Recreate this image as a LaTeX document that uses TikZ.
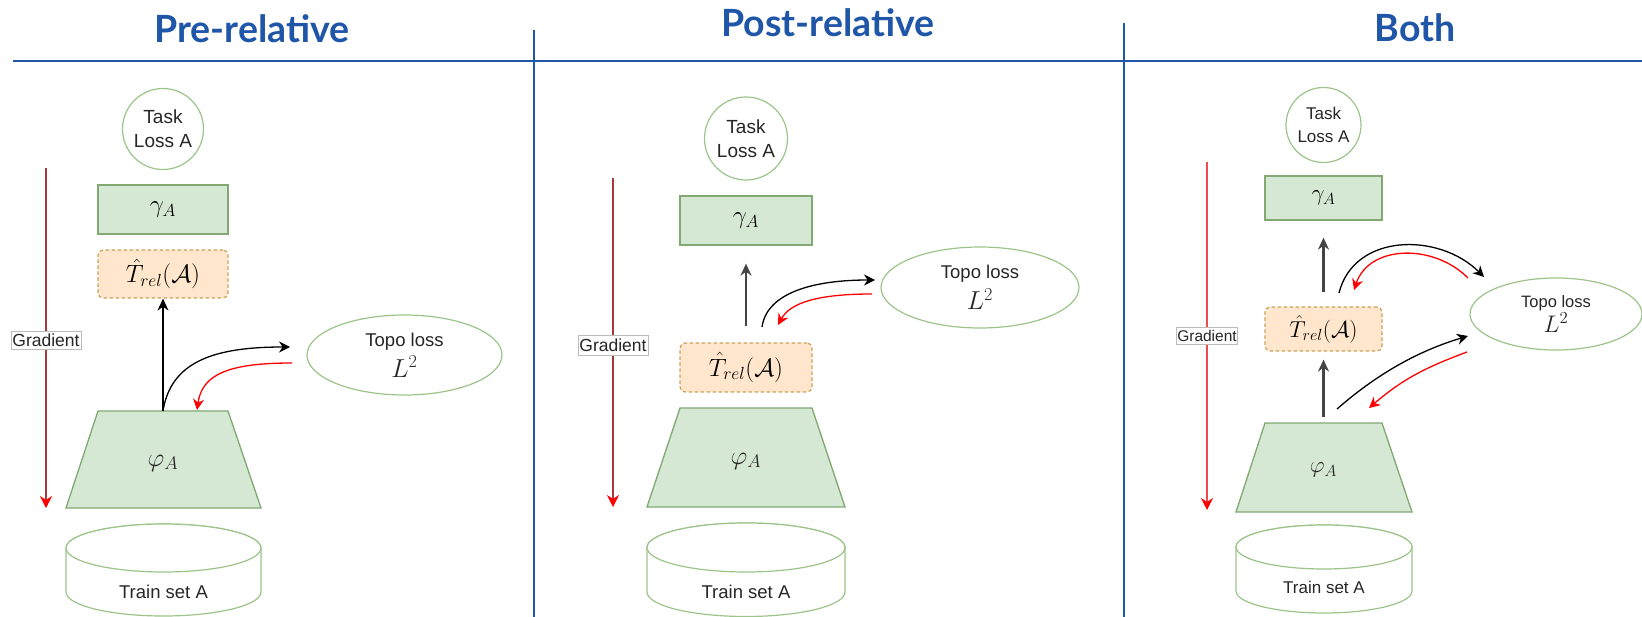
\RequirePackage{fix-cm}
\documentclass[tikz,border=0pt]{standalone}
\usepackage[no-math]{fontspec}
\setmainfont{Liberation Sans}
\newfontfamily\titlefont{Lato}
\usetikzlibrary{arrows.meta,shapes.geometric}
\definecolor{ttl}{HTML}{1F56A8}
\definecolor{grnfill}{HTML}{D5E8D4}
\definecolor{grnline}{HTML}{82A874}
\definecolor{lgrn}{HTML}{9CC48A}
\definecolor{ornfill}{HTML}{FFE6CC}
\definecolor{ornline}{HTML}{C9A15A}
\definecolor{gradA}{HTML}{A8383A}
\definecolor{gradB}{HTML}{EE4A52}
\definecolor{txtc}{HTML}{262626}
\definecolor{arrg}{HTML}{444444}
\definecolor{lblline}{HTML}{BBBBBB}
\begin{document}
\begin{tikzpicture}[x=1pt,y=-1pt,
 title/.style={font=\titlefont\bfseries\fontsize{37.5}{40}\selectfont, text=ttl, inner sep=0pt, anchor=base},
 sep/.style={draw=ttl, line width=2pt},
 tasknode/.style={circle, draw=lgrn, fill=white, line width=1.2pt, inner sep=0pt, align=center, text=txtc},
 gbox/.style={rectangle, draw=grnline, fill=grnfill, line width=1.3pt, inner sep=0pt},
 obox/.style={rectangle, rounded corners=5pt, draw=ornline, fill=ornfill, line width=1.2pt, dash pattern=on 3.5pt off 2.5pt, inner sep=0pt},
 trap/.style={draw=grnline, fill=grnfill, line width=1.3pt},
 cyl/.style={draw=lgrn, fill=white, line width=1.2pt},
 topo/.style={ellipse, draw=lgrn, fill=white, line width=1.2pt, inner sep=0pt, align=center, text=txtc},
 lbl/.style={text=txtc, inner sep=0pt},
 gradlbl/.style={draw=lblline, fill=white, line width=0.6pt, inner sep=0pt, text=txtc},
 fwd/.style={draw=black, line width=1.3pt, -{Stealth[length=11pt,width=11pt]}},
 bwd/.style={draw=red, line width=1.3pt, -{Stealth[length=11pt,width=11pt]}},
 upthin/.style={draw=black, line width=1.6pt, -{Stealth[length=12pt,width=11pt]}},
 upgrey/.style={draw=arrg, line width=2.2pt, -{Stealth[length=12pt,width=11pt]}},
 gradarrA/.style={draw=gradA, line width=1.3pt, -{Stealth[length=12pt,width=12pt,color=red]}},
 gradarrB/.style={draw=gradB, line width=1.3pt, -{Stealth[length=12pt,width=12pt,color=red]}},
 fA/.style={font=\fontsize{19}{24}\selectfont},
 fB/.style={font=\fontsize{17}{23}\selectfont},
]
\useasboundingbox (0,0) rectangle (1642,617);

% ---------- titles and separators ----------
\node[title] (h1) at (252,43) {Pre-relative};
\node[title] (h2) at (828,37) {Post-relative};
\node[title] (h3) at (1415,42) {Both};
\coordinate (hl) at (13,61); \coordinate (hr) at (1642,61);
\draw[sep] (hl) -- (hr);
\coordinate (d1t) at (534,30); \coordinate (d1b) at (534,617);
\draw[sep] (d1t) -- (d1b);
\coordinate (d2t) at (1124,23); \coordinate (d2b) at (1124,617);
\draw[sep] (d2t) -- (d2b);

% ================= Panel 1: Pre-relative =================
\coordinate (gr1t) at (46,168); \coordinate (gr1b) at (46,508);
\draw[gradarrA] (gr1t) -- (gr1b);
\node[gradlbl, minimum width=70pt, minimum height=18pt, font=\fontsize{17.5}{18}\selectfont] (gl1) at (46,340) {Gradient};

\node[tasknode, minimum size=81pt, fA] (task1) at (163,129) {Task\\Loss A};
\node[gbox, minimum width=130pt, minimum height=49pt, font=\fontsize{25}{25}\selectfont] (gam1) at (163,209.5) {$\gamma_A$};
\node[obox, minimum width=130pt, minimum height=48pt, font=\fontsize{25}{25}\selectfont] (rel1) at (163,274) {$\hat{T}_{rel}(\mathcal{A})$};
\draw[trap] (98,411) -- (228,411) -- (261,508) -- (66,508) -- cycle;
\node[lbl, font=\fontsize{26}{26}\selectfont] (phi1) at (163,463) {$\varphi_A$};
\coordinate (phi1top) at (163,411);
\path[cyl] (66,548) -- (66,592) arc[start angle=180,end angle=0,x radius=97.5,y radius=24] -- (261,548) arc[start angle=0,end angle=-180,x radius=97.5,y radius=24] -- cycle;
\draw[cyl] (163.5,548) ellipse [x radius=97.5, y radius=24];
\node[lbl, font=\fontsize{18.5}{20}\selectfont] (ts1) at (163.5,592) {Train set A};
\node[topo, minimum width=195pt, minimum height=80pt, font=\fontsize{18.5}{31}\selectfont] (topo1) at (404.5,355) {Topo loss\\{\fontsize{26}{31}\selectfont$L^2$}};

\draw[upthin] (phi1top) -- (rel1.south);
\coordinate (c1a) at (290,347); \coordinate (c1b) at (292,363); \coordinate (c1c) at (197,410);
\draw[fwd] (phi1top) .. controls +(8,-50) and +(-75,0) .. (c1a);
\draw[bwd] (c1b) .. controls +(-65,0) and +(5,-35) .. (c1c);

% ================= Panel 2: Post-relative =================
\coordinate (gr2t) at (613,178); \coordinate (gr2b) at (613,507);
\draw[gradarrA] (gr2t) -- (gr2b);
\node[gradlbl, minimum width=70pt, minimum height=20pt, font=\fontsize{17.5}{18}\selectfont] (gl2) at (613,345) {Gradient};

\node[tasknode, minimum size=83pt, fA] (task2) at (746,138.5) {Task\\Loss A};
\node[gbox, minimum width=132pt, minimum height=49pt, font=\fontsize{25}{25}\selectfont] (gam2) at (746,220.5) {$\gamma_A$};
\node[obox, minimum width=132pt, minimum height=49pt, font=\fontsize{25}{25}\selectfont] (rel2) at (746,367.5) {$\hat{T}_{rel}(\mathcal{A})$};
\draw[trap] (680,408) -- (812,408) -- (845,507) -- (647,507) -- cycle;
\node[lbl, font=\fontsize{26}{26}\selectfont] (phi2) at (746,461) {$\varphi_A$};
\path[cyl] (647,547.5) -- (647,592) arc[start angle=180,end angle=0,x radius=99,y radius=24.5] -- (845,547.5) arc[start angle=0,end angle=-180,x radius=99,y radius=24.5] -- cycle;
\draw[cyl] (746,547.5) ellipse [x radius=99, y radius=24.5];
\node[lbl, font=\fontsize{18.5}{20}\selectfont] (ts2) at (746,592) {Train set A};
\node[topo, minimum width=198pt, minimum height=81pt, font=\fontsize{18.5}{31}\selectfont] (topo2) at (980,287.5) {Topo loss\\{\fontsize{26}{31}\selectfont$L^2$}};

\draw[upgrey, shorten <=16pt, shorten >=18pt] (rel2.north) -- (gam2.south);
\coordinate (c2s) at (762,327); \coordinate (c2a) at (875,280); \coordinate (c2b) at (872,294); \coordinate (c2c) at (778,325);
\draw[fwd] (c2s) .. controls +(5,-35) and +(-60,0) .. (c2a);
\draw[bwd] (c2b) .. controls +(-55,0) and +(12,-22) .. (c2c);

% ================= Panel 3: Both =================
\coordinate (gr3t) at (1207,162); \coordinate (gr3b) at (1207,510);
\draw[gradarrB] (gr3t) -- (gr3b);
\node[gradlbl, minimum width=61pt, minimum height=17pt, font=\fontsize{15.5}{16}\selectfont] (gl3) at (1207,336) {Gradient};

\node[tasknode, minimum size=75pt, fB] (task3) at (1323.5,125) {Task\\Loss A};
\node[gbox, minimum width=117pt, minimum height=44pt, font=\fontsize{23}{23}\selectfont] (gam3) at (1323.5,198) {$\gamma_A$};
\node[obox, minimum width=117pt, minimum height=44pt, font=\fontsize{23}{23}\selectfont] (rel3) at (1323.5,329) {$\hat{T}_{rel}(\mathcal{A})$};
\draw[trap] (1265,423) -- (1382,423) -- (1412,512) -- (1236,512) -- cycle;
\node[lbl, font=\fontsize{23}{23}\selectfont] (phi3) at (1323.5,470) {$\varphi_A$};
\coordinate (phi3top) at (1323.5,423);
\path[cyl] (1236,547) -- (1236,591) arc[start angle=180,end angle=0,x radius=88,y radius=22] -- (1412,547) arc[start angle=0,end angle=-180,x radius=88,y radius=22] -- cycle;
\draw[cyl] (1324,547) ellipse [x radius=88, y radius=22];
\node[lbl, font=\fontsize{17}{18}\selectfont] (ts3) at (1324,587) {Train set A};
\node[topo, minimum width=172pt, minimum height=72pt, font=\fontsize{16.5}{25}\selectfont] (topo3) at (1556,314) {Topo loss\\{\fontsize{24}{25}\selectfont$L^2$}};

\draw[upgrey, shorten <=14pt, shorten >=17pt] (rel3.north) -- (gam3.south);
\draw[upgrey, shorten <=6pt, shorten >=8pt] (phi3top) -- (rel3.south);
\coordinate (c3s) at (1339,293); \coordinate (c3a) at (1484,277);
\coordinate (c3b) at (1468,278); \coordinate (c3c) at (1354,290);
\draw[fwd] (c3s) .. controls +(15,-60) and +(-45,-45) .. (c3a);
\draw[bwd] (c3b) .. controls +(-35,-35) and +(15,-45) .. (c3c);
\coordinate (c3d) at (1337,409); \coordinate (c3e) at (1468,336);
\coordinate (c3f) at (1467,352); \coordinate (c3g) at (1369,408);
\draw[fwd] (c3d) .. controls +(40,-35) and +(-50,15) .. (c3e);
\draw[bwd] (c3f) .. controls +(-40,15) and +(35,-30) .. (c3g);
\end{tikzpicture}
\end{document}
